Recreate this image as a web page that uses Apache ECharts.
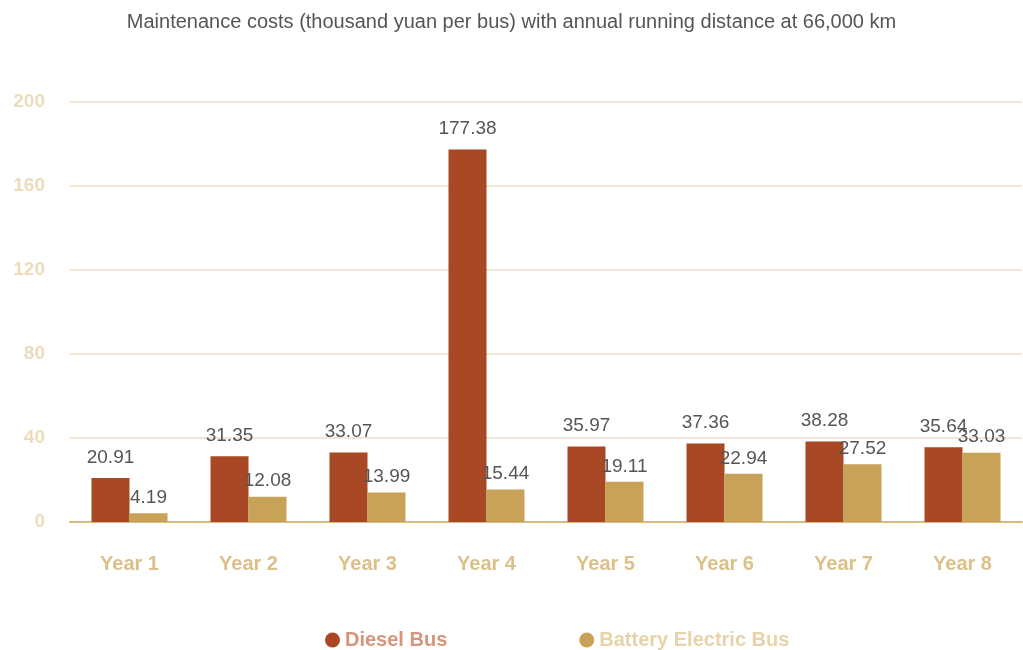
<!DOCTYPE html>
<html>
<head>
<meta charset="utf-8">
<script src="https://cdn.jsdelivr.net/npm/echarts@6/dist/echarts.min.js"></script>
<style>
  html, body { margin: 0; padding: 0; background: #fff; }
  #chart { width: 1023px; height: 650px; }
</style>
</head>
<body>
<div id="chart"></div>
<script>
// Maintenance cost per bus by year of service (thousand yuan)
const years = ['Year 1', 'Year 2', 'Year 3', 'Year 4', 'Year 5', 'Year 6', 'Year 7', 'Year 8'];
const dieselCosts = [20.91, 31.35, 33.07, 177.38, 35.97, 37.36, 38.28, 35.64];
const electricCosts = [4.19, 12.08, 13.99, 15.44, 19.11, 22.94, 27.52, 33.03];
const seriesNames = ['Diesel Bus', 'Battery Electric Bus'];

const chart = echarts.init(document.getElementById('chart'));

function valueLabel(distance) {
  return {
    show: true,
    position: 'top',
    distance: distance,
    color: '#555',
    fontSize: 19,
    fontFamily: 'Liberation Sans, Arial, sans-serif'
  };
}

chart.setOption({
  animation: false,
  textStyle: { fontFamily: 'Liberation Sans, Arial, sans-serif' },
  title: {
    text: 'Maintenance costs (thousand yuan per bus) with annual running distance at 66,000 km',
    left: 'center',
    top: 7,
    textStyle: { color: '#555', fontSize: 20, fontWeight: 'normal' }
  },
  legend: {
    top: 625,
    left: 320,
    icon: 'circle',
    itemWidth: 15,
    itemHeight: 15,
    itemGap: 132,
    data: [
      { name: seriesNames[0], textStyle: { color: '#d4957a' } },
      { name: seriesNames[1], textStyle: { color: '#e6d3aa' } }
    ],
    textStyle: { fontSize: 20, fontWeight: 'bold' }
  },
  grid: { left: 70, right: 1, top: 102, bottom: 128 },
  xAxis: {
    type: 'category',
    data: years,
    axisLine: { lineStyle: { color: '#d6bc82', width: 2 } },
    axisTick: { show: false },
    axisLabel: { color: '#dcc08a', fontSize: 20, fontWeight: 'bold', margin: 32 }
  },
  yAxis: {
    type: 'value',
    min: 0,
    max: 200,
    interval: 40,
    axisLine: { show: false },
    axisTick: { show: false },
    splitLine: { lineStyle: { color: '#f1e7d4', width: 2 } },
    axisLabel: { color: '#ecdcbc', fontSize: 19, fontWeight: 'bold', margin: 25 }
  },
  series: [
    {
      name: seriesNames[0],
      type: 'bar',
      data: dieselCosts,
      barWidth: 38,
      barGap: '0%',
      itemStyle: { color: '#a84824' },
      label: valueLabel(11)
    },
    {
      name: seriesNames[1],
      type: 'bar',
      data: electricCosts,
      barWidth: 38,
      itemStyle: { color: '#c8a257' },
      label: valueLabel(6)
    }
  ]
});
</script>
</body>
</html>
